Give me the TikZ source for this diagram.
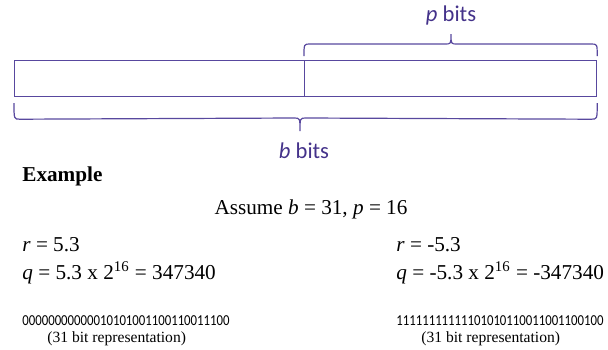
\documentclass[tikz,border=0pt]{standalone}
\usepackage{fontspec}
\usetikzlibrary{calc}
\setmainfont{Liberation Serif}
\newfontfamily\calfont{Carlito}
\definecolor{frameline}{RGB}{88,72,158}
\definecolor{labelink}{RGB}{68,50,138}
\newcommand{\narrowbits}[1]{\scalebox{0.84}[1]{#1}}
\begin{document}
\begin{tikzpicture}[x=0.5pt,y=-0.5pt,
  cell/.style={draw=frameline,line width=0.6pt,minimum height=18pt,inner sep=0pt,anchor=north west},
  bracepath/.style={draw=frameline,line width=0.6pt},
  bitlabel/.style={font=\calfont\fontsize{11.3}{13}\selectfont,text=labelink,inner sep=0pt},
  serif/.style={font=\fontsize{10.6}{13}\selectfont,inner sep=0pt,anchor=west},
  bitstring/.style={font=\calfont\fontsize{7.6}{9}\selectfont,inner sep=0pt,anchor=west},
  note/.style={font=\fontsize{7.8}{9}\selectfont,inner sep=0pt,anchor=west}]
\useasboundingbox (0,0) rectangle (608,349);

% the b-bit word, split at the binary point
\node[cell,minimum width=145pt] (intpart) at (14,60) {};
\node[cell,minimum width=146pt] (fracpart) at (304,60) {};

% brace over the p fractional bits
\coordinate (pl) at (fracpart.north west);
\coordinate (pr) at (fracpart.north east);
\coordinate (ptip) at (451,34);
\draw[bracepath] ($(pl)+(0,-4)$) .. controls ($(pl)+(0,-16)$) .. ($(pl)+(6,-16)$)
  -- ($(ptip)+(-6,10)$) .. controls ($(ptip)+(0,10)$) .. (ptip)
  .. controls ($(ptip)+(0,10)$) .. ($(ptip)+(6,10)$)
  -- ($(pr)+(-6,-16)$) .. controls ($(pr)+(0,-16)$) .. ($(pr)+(0,-4)$);
\node[bitlabel] (plabel) at (451,15) {\textit{p} bits};

% brace under all b bits
\coordinate (bl) at (intpart.south west);
\coordinate (br) at (fracpart.south east);
\coordinate (btip) at (300,131);
\draw[bracepath] ($(bl)+(0,6)$) .. controls ($(bl)+(0,22)$) .. ($(bl)+(6,22)$)
  -- ($(btip)+(-6,-13)$) .. controls ($(btip)+(0,-13)$) .. (btip)
  .. controls ($(btip)+(0,-13)$) .. ($(btip)+(6,-13)$)
  -- ($(br)+(-6,22)$) .. controls ($(br)+(0,22)$) .. ($(br)+(0,6)$);
\node[bitlabel] (blabel) at (304,151) {\textit{b} bits};

% worked example
\node[serif] (example) at (22,176) {\textbf{Example}};
\node[serif,anchor=center] (assume) at (311,209) {Assume \textit{b} = 31, \textit{p} = 16};

\node[serif] (rpos) at (22,245) {\textit{r} = 5.3};
\node[serif] (qpos) at (22,273) {\textit{q} = 5.3 x 2\textsuperscript{16} = 347340};
\node[serif] (rneg) at (396,245) {\textit{r} = -5.3};
\node[serif] (qneg) at (396,273) {\textit{q} = -5.3 x 2\textsuperscript{16} = -347340};

\node[bitstring] (bitspos) at (22,321) {\narrowbits{00000000000010101001100110011100}};
\node[note] (notepos) at (47,339) {(31 bit representation)};
\node[bitstring] (bitsneg) at (396,321) {\narrowbits{11111111111101010110011001100100}};
\node[note] (noteneg) at (421,339) {(31 bit representation)};
\end{tikzpicture}
\end{document}
